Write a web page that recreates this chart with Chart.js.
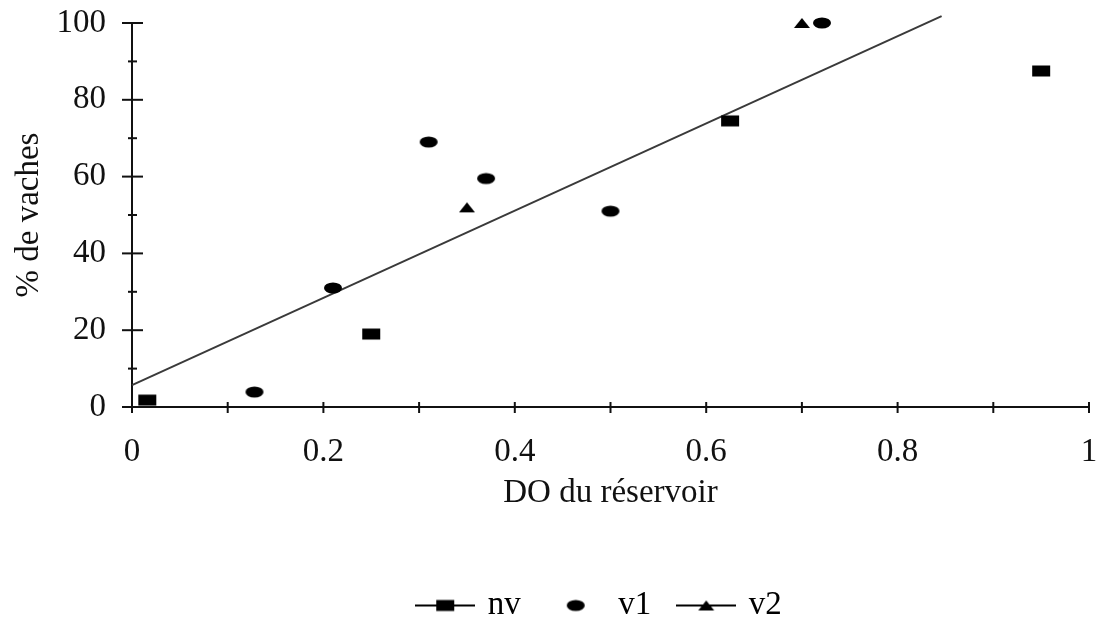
<!DOCTYPE html>
<html>
<head>
<meta charset="utf-8">
<script src="https://cdn.jsdelivr.net/npm/chart.js@4/dist/chart.umd.min.js"></script>
<style>
  html, body { margin: 0; padding: 0; background: #fff; }
</style>
</head>
<body>
<canvas id="doChart" width="1105" height="626"></canvas>
<script>
// series
const nvX = [0.016, 0.25, 0.625, 0.95];
const nvY = [1.8, 19, 74.5, 87.5];
const v1X = [0.128, 0.21, 0.31, 0.37, 0.50, 0.721];
const v1Y = [3.9, 31, 69, 59.5, 51, 100];
const v2X = [0.35, 0.70];
const v2Y = [52, 100];
// trend line end points
const trendX = [0, 0.846];
const trendY = [5.7, 101.8];

// ticks
const xTicks = [0, 0.1, 0.2, 0.3, 0.4, 0.5, 0.6, 0.7, 0.8, 0.9, 1];
const xTickLabels = ["0", "", "0.2", "", "0.4", "", "0.6", "", "0.8", "", "1"];
const yTicks = [0, 10, 20, 30, 40, 50, 60, 70, 80, 90, 100];
const yTickLabels = ["0", "", "20", "", "40", "", "60", "", "80", "", "100"];

const serif = "'Liberation Serif', 'Times New Roman', serif";
const fontSize = 33;
Chart.defaults.font.family = serif;
Chart.defaults.color = "#111";

function toPoints(xs, ys) {
    return xs.map((x, i) => ({ x: x, y: ys[i] }));
}

// marker images
function marker(kind, w, h, withLine) {
    const c = document.createElement("canvas");
    c.width = w; c.height = h;
    const ctx = c.getContext("2d");
    ctx.fillStyle = "#000";
    ctx.strokeStyle = "#000";
    const cx = w / 2, cy = h / 2;
    if (withLine) {
        ctx.lineWidth = 2;
        ctx.beginPath();
        ctx.moveTo(0, cy);
        ctx.lineTo(w, cy);
        ctx.stroke();
    }
    ctx.beginPath();
    if (kind === "rect") {
        ctx.rect(cx - 9, cy - 5.5, 18, 11);
    } else if (kind === "ellipse") {
        ctx.ellipse(cx, cy, 9, 5.5, 0, 0, Math.PI * 2);
    } else {
        ctx.moveTo(cx - 8, cy + 5);
        ctx.lineTo(cx + 8, cy + 5);
        ctx.lineTo(cx, cy - 5);
        ctx.closePath();
    }
    ctx.fill();
    return c;
}

const rectPt = marker("rect", 20, 14, false);
const ellPt = marker("ellipse", 20, 14, false);
const triPt = marker("tri", 20, 14, false);
const legendStyles = [marker("rect", 60, 14, true), marker("ellipse", 60, 14, false), marker("tri", 60, 14, true)];

// crossing tick marks drawn from the scales
const crossTicks = {
    id: "crossTicks",
    afterDraw(chart) {
        const ctx = chart.ctx;
        const xs = chart.scales.x, ys = chart.scales.y;
        const y0 = ys.getPixelForValue(0);
        const x0 = xs.getPixelForValue(0);
        ctx.save();
        ctx.strokeStyle = "#111";
        ctx.lineWidth = 2;
        xTicks.forEach(v => {
            const px = xs.getPixelForValue(v);
            ctx.beginPath();
            ctx.moveTo(px, y0 - 5);
            ctx.lineTo(px, y0 + 6);
            ctx.stroke();
        });
        yTicks.forEach((v, i) => {
            const py = ys.getPixelForValue(v);
            const half = yTickLabels[i] ? 10 : 4;
            ctx.beginPath();
            ctx.moveTo(x0 - half, py);
            ctx.lineTo(x0 + half + 1, py);
            ctx.stroke();
        });
        ctx.restore();
    }
};

// the legend sits a bit right of centre in the original
const legendShift = {
    id: "legendShift",
    afterLayout(chart) {
        chart.legend.left += 56;
        chart.legend.right += 56;
    }
};

new Chart("doChart", {
    type: "scatter",
    data: {
        datasets: [{
            label: "nv",
            data: toPoints(nvX, nvY),
            pointStyle: rectPt,
            backgroundColor: "#000",
            borderColor: "#000",
            clip: false
        }, {
            label: "v1",
            data: toPoints(v1X, v1Y),
            pointStyle: ellPt,
            backgroundColor: "#000",
            borderColor: "#000",
            clip: false
        }, {
            label: "v2",
            data: toPoints(v2X, v2Y),
            pointStyle: triPt,
            backgroundColor: "#000",
            borderColor: "#000",
            clip: false
        }, {
            type: "line",
            label: "trend",
            data: toPoints(trendX, trendY),
            borderColor: "#3a3a3a",
            borderWidth: 2,
            pointRadius: 0,
            fill: false,
            clip: false
        }]
    },
    options: {
        responsive: false,
        animation: false,
        layout: {
            padding: { top: 23, left: 0, right: 16, bottom: -6 }
        },
        plugins: {
            tooltip: { enabled: false },
            legend: {
                position: "bottom",
                labels: {
                    usePointStyle: true,
                    pointStyleWidth: 52,
                    padding: 29,
                    font: { size: fontSize, family: serif },
                    color: "#111",
                    generateLabels: chart => chart.data.datasets
                        .slice(0, 3)
                        .map((ds, i) => ({
                            text: ds.label,
                            pointStyle: legendStyles[i],
                            fillStyle: "#000",
                            strokeStyle: "#000",
                            lineWidth: 0,
                            datasetIndex: i
                        }))
                }
            }
        },
        scales: {
            x: {
                type: "linear",
                min: 0,
                max: 1,
                afterBuildTicks: scale => {
                    scale.ticks = xTicks.map(v => ({ value: v }));
                },
                afterFit: scale => {
                    scale.height = 153;
                    scale.paddingLeft = 0;
                    scale.paddingRight = 0;
                },
                grid: { display: false },
                border: { display: true, color: "#111", width: 2 },
                ticks: {
                    autoSkip: false,
                    maxRotation: 0,
                    padding: 18,
                    font: { size: fontSize, family: serif },
                    color: "#111",
                    callback: (value, index) => xTickLabels[index]
                },
                title: {
                    display: true,
                    text: "DO du réservoir",
                    font: { size: fontSize, family: serif },
                    color: "#111",
                    padding: { top: 0, bottom: 47 }
                }
            },
            y: {
                type: "linear",
                min: 0,
                max: 100,
                afterBuildTicks: scale => {
                    scale.ticks = yTicks.map(v => ({ value: v }));
                },
                afterFit: scale => {
                    scale.width = 132;
                    scale.paddingTop = 0;
                    scale.paddingBottom = 0;
                },
                grid: { display: false },
                border: { display: true, color: "#111", width: 2 },
                ticks: {
                    autoSkip: false,
                    padding: 18,
                    font: { size: fontSize, family: serif },
                    color: "#111",
                    callback: (value, index) => yTickLabels[index]
                },
                title: {
                    display: true,
                    text: "% de vaches",
                    font: { size: fontSize, family: serif },
                    color: "#111",
                    padding: { top: 10, bottom: 0 }
                }
            }
        }
    },
    plugins: [crossTicks, legendShift]
});
</script>
</body>
</html>
